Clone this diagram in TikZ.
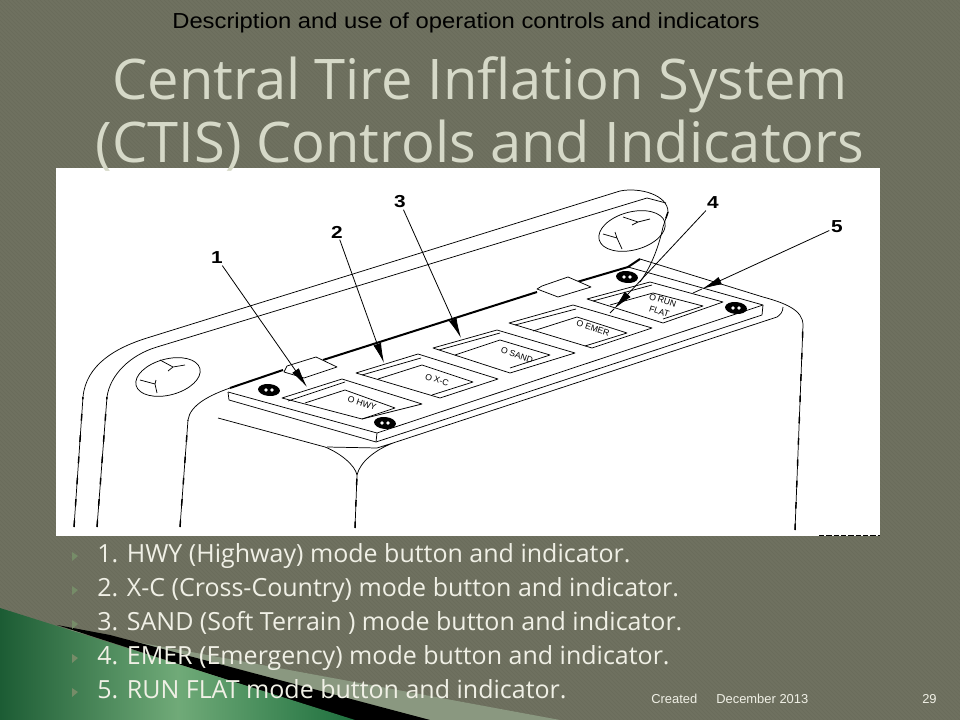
\documentclass[tikz,border=0pt]{standalone}
\usepackage{fontspec}
\setmainfont{Open Sans}
\newfontfamily\arialfont{Liberation Sans}
\usetikzlibrary{arrows.meta,calc}
\usetikzlibrary{fit,positioning}
\definecolor{slidebg}{RGB}{111,113,96}
\definecolor{slidehatch}{RGB}{105,107,91}
\definecolor{titlecol}{RGB}{214,217,200}
\definecolor{listcol}{RGB}{240,240,230}
\definecolor{bulletcol}{RGB}{118,140,104}
\definecolor{wedgecol}{RGB}{138,152,128}
\definecolor{wedgedark}{RGB}{28,92,52}
\definecolor{wedgelight}{RGB}{112,170,120}
\definecolor{wedgeright}{RGB}{30,112,62}

\begin{document}
\begin{tikzpicture}[x=0.75pt,y=-0.75pt,line join=round]
		\tikzstyle{panel line}=[black,line width=0.55pt]
		\tikzstyle{heavy line}=[black,line width=1.5pt]
		\tikzstyle{rough line}=[black,line width=1.1pt,dash pattern=on 5pt off 11pt]
		\tikzstyle{callout}=[black,line width=0.6pt,-{Latex[length=15pt,width=6pt]}]
		\tikzstyle{callout num}=[font=\arialfont\bfseries\fontsize{13}{13}\selectfont,inner sep=1pt,xscale=1.2,transform shape]
		\tikzstyle{key text}=[font=\arialfont\fontsize{6.5}{8.5}\selectfont,inner sep=0pt,rotate=-18,align=center]
		\tikzstyle{list item}=[anchor=base west,text=listcol,inner sep=0pt,font=\fontsize{18.75}{18.75}\selectfont]
		\tikzstyle{title line}=[text=titlecol,inner sep=0pt,anchor=base,font=\fontsize{42}{42}\selectfont]
		\tikzstyle{footer}=[anchor=base west,text=listcol,inner sep=0pt,font=\arialfont\fontsize{9.7}{9.7}\selectfont]
		\useasboundingbox (0,0) rectangle (960,720);

		%background
		\fill[slidebg] (0,0) rectangle (960,720);
		\begin{scope}
			\clip (0,0) rectangle (960,720);
			\foreach \i in {0,4,...,1680}
				\draw[slidehatch,line width=0.5pt] (\i-720,0) -- (\i,720);
		\end{scope}

		%corner wedges
		\fill[wedgecol] (60,628) -- (273,667) -- (560,720) -- (430,720) -- cycle;
		\fill[black] (57,625) -- (110,635) -- (430,720) -- (353,720) -- cycle;
		\shade[left color=wedgedark,right color=wedgeright,middle color=wedgelight] (0,608) -- (355,720) -- (0,720) -- cycle;

		%white picture
		\fill[white] (56,168) rectangle (880,536);
		\draw[black,line width=0.9pt,dash pattern=on 4pt off 1.5pt] (819,535.3) -- (880,535.3);

		%housing
		\draw[panel line] (74,527) -- (83,397) .. controls (86,365) and (115,348) .. (147,338) -- (620,191)
			.. controls (640,187) and (668,195) .. (668,212) -- (663,227) .. controls (658,250) and (650,268) .. (640,282);
		\draw[panel line] (97,527) -- (107,397) .. controls (110,375) and (130,355) .. (157,347) -- (647,198) -- (666,203);
		\draw[panel line] (180,527) -- (188,420) .. controls (190,405) and (210,395) .. (230,388);
		\draw[panel line] (640,259) -- (763,297) .. controls (785,303) and (803,310) .. (803,325) -- (795,530);
		\draw[panel line] (218,418) -- (325,447) .. controls (340,453) and (355,465) .. (357,475) -- (355,528);
		\draw[panel line] (327,447) -- (377,448) -- (393,443) .. controls (375,450) and (360,462) .. (357,475);
		\draw[panel line] (393,443) -- (777,317) .. controls (780,315) and (783,312) .. (783,307);
		\draw[rough line] (74,527) -- (83,397);
		\draw[rough line] (97,527) -- (107,397);
		\draw[rough line] (180,527) -- (188,420);
		\draw[rough line] (355,528) -- (357,475);
		\draw[rough line] (795,530) -- (803,325);
		\draw[rough line] (668,212) -- (663,227);

		%back edge
		\draw[heavy line] (230,388) -- (283,370);
		\draw[heavy line] (323,360) -- (537,292);
		\draw[heavy line] (577,282) -- (628,267) -- (640,259);

		%plate
		\draw[panel line] (228,392) -- (377,433) -- (763,305) -- (628,267);
		\draw[panel line] (228,392) -- (229,400) -- (376,442) -- (762,315) -- (763,305);
		\draw[panel line] (377,433) -- (376,442);

		%holes
		\draw[panel line] (168,377) ellipse [x radius=33,y radius=18,rotate=15];
		\draw[panel line] (632,231) ellipse [x radius=34,y radius=19,rotate=15];
		\draw[panel line] (160,360) -- (173,367) -- (168,371) (173,367) -- (185,365);
		\draw[panel line] (140,380) -- (155,384) -- (157,393) (155,384) -- (156,380);
		\draw[panel line] (623,217) -- (638,222) -- (632,225) (638,222) -- (650,219);
		\draw[panel line] (603,234) -- (617,238) -- (622,249) (617,238) -- (615,232);

		%tabs
		\draw[panel line,fill=white] (284,372) -- (287,366) -- (316,357) -- (337,367) -- (304,378) -- cycle;
		\draw[panel line,fill=white] (537,289) -- (542,286) -- (568,277) -- (591,287) -- (558,297) -- cycle;

		%screws
		\foreach \sx/\sy in {269/390,385/423,627/277,736/308}{
			\fill[black] (\sx,\sy) ellipse [x radius=11,y radius=6,rotate=-5];
			\fill[white] (\sx-3,\sy) circle [radius=1.8];
			\fill[white] (\sx+3,\sy) circle [radius=1.8];
		}

		%button 1
		\draw[panel line] (282,398) -- (342,379) -- (422,404) -- (362,419) -- cycle;
		\draw[panel line] (305,403) -- (345,390) -- (395,408) -- (362,419);
		\draw[panel line] (288,401) -- (345,382);
		%button 2
		\draw[panel line] (356,373) -- (418,354) -- (498,379) -- (440,398) -- cycle;
		\draw[panel line] (378,379) -- (422,365) -- (473,382) -- (432,395);
		\draw[panel line] (362,375) -- (421,358);
		%button 3
		\draw[panel line] (433,348) -- (497,330) -- (575,353) -- (510,373) -- cycle;
		\draw[panel line] (455,355) -- (500,340) -- (550,355) -- (510,368);
		\draw[panel line] (439,350) -- (500,333);
		%button 4
		\draw[panel line] (509,323) -- (573,305) -- (652,328) -- (592,348) -- cycle;
		\draw[panel line] (533,331) -- (577,317) -- (627,333) -- (585,346);
		\draw[panel line] (515,325) -- (576,309);
		%button 5
		\draw[panel line] (587,299) -- (650,282) -- (723,302) -- (663,323) -- cycle;
		\draw[panel line] (610,305) -- (653,293) -- (703,306) -- (663,319);
		\draw[panel line] (593,301) -- (652,285);

		%key labels
		\node[key text] (hwy key) at (362,403) {O HWY};
		\node[key text] (xc key) at (437,380) {O X-C};
		\node[key text] (sand key) at (517,355) {O SAND};
		\node[key text] (emer key) at (593,328) {O EMER};
		\node[key text] (run key) at (661,306) {O RUN\\FLAT};

		%callouts
		\node[callout num] (num1) at (217,258) {1};
		\node[callout num] (num2) at (337,232) {2};
		\node[callout num] (num3) at (400,202) {3};
		\node[callout num] (num4) at (713,203) {4};
		\node[callout num] (num5) at (837,227) {5};
		\coordinate (tip1) at (307,387);
		\coordinate (tip2) at (384,363);
		\coordinate (tip3) at (461,338);
		\coordinate (tip4) at (614,309);
		\coordinate (tip5) at (702,289);
		\coordinate (end4) at (610,313);
		\coordinate (end5) at (693,293);
		\foreach \n in {1,...,5}
			\draw[callout] (num\n) -- (tip\n);
		\draw[panel line] (tip4) -- (end4);
		\draw[panel line] (tip5) -- (end5);

		%heading
		\node[font=\arialfont\fontsize{16.3}{16.3}\selectfont,inner sep=0pt,anchor=base,xscale=1.095,transform shape] (subject) at (466,29) {Description and use of operation controls and indicators};
		\node[title line] (title one) at (480,100) {Central Tire Inflation System};
		\node[title line] (title two) at (480,163) {(CTIS) Controls and Indicators};

		%list
		\foreach \n/\yy/\txt in {1/562/{1. HWY (Highway) mode button and indicator.},2/596/{2. X-C (Cross-Country) mode button and indicator.},3/630/{3. SAND (Soft Terrain ) mode button and indicator.},4/664/{4. EMER (Emergency) mode button and indicator.},5/698/{5. RUN FLAT mode button and indicator.}}{
			\fill[bulletcol] (72,\yy-10) -- (78,\yy-6) -- (72,\yy-1) -- cycle;
			\node[list item] (item\n) at (97,\yy) {\txt};
		}

		%footer
		\node[footer] (created) at (651,703) {Created};
		\node[footer] (date) at (716,703) {December 2013};
		\node[footer] (page) at (922,703) {29};
\end{tikzpicture}
\end{document}
